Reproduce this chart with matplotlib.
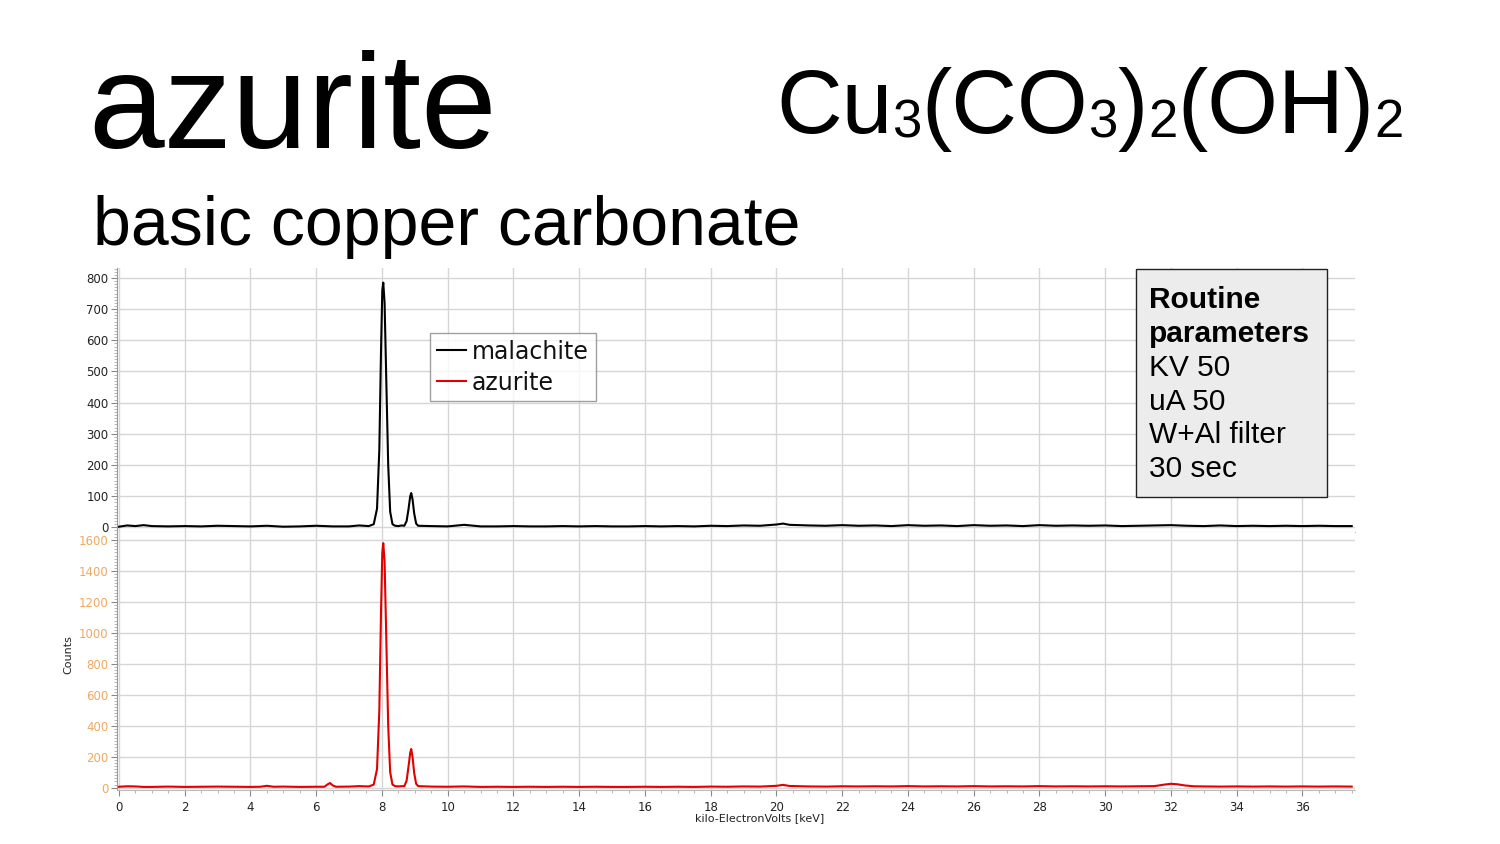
import matplotlib
matplotlib.use('Agg')
import matplotlib.pyplot as plt
from matplotlib.ticker import MultipleLocator, AutoMinorLocator

# spectra (keV, counts)
mal_kev = [0.0, 0.25, 0.5, 0.75, 1.0, 1.5, 2.0, 2.5, 3.0, 3.5, 4.0, 4.5, 5.0, 5.5, 6.0, 6.5, 7.0, 7.3,
           7.60, 7.75, 7.85, 7.92, 7.97, 8.01, 8.04, 8.08, 8.13, 8.19, 8.25, 8.32, 8.40, 8.5, 8.6,
           8.68, 8.75, 8.81, 8.86, 8.89, 8.93, 8.98, 9.04, 9.10,
           9.5, 10.0, 10.5, 11.0, 11.5, 12.0, 12.5, 13.0, 13.5, 14.0, 14.5, 15.0, 15.5, 16.0,
           16.5, 17.0, 17.5, 18.0, 18.5, 19.0, 19.5, 20.0, 20.2, 20.4, 21.0, 21.5, 22.0, 22.5,
           23.0, 23.5, 24.0, 24.5, 25.0, 25.5, 26.0, 26.5, 27.0, 27.5, 28.0, 28.5, 29.0, 29.5,
           30.0, 30.5, 31.0, 31.5, 32.0, 32.5, 33.0, 33.5, 34.0, 34.5, 35.0, 35.5, 36.0, 36.5,
           37.0, 37.5]
mal_counts = [2, 6, 4, 7, 4, 3, 4, 3, 5, 4, 3, 5, 2, 3, 5, 3, 3, 6,
              4, 10, 60, 250, 560, 760, 785, 720, 480, 200, 50, 10, 5, 4, 6,
              5, 20, 60, 100, 110, 90, 45, 12, 5,
              4, 3, 8, 3, 3, 4, 3, 3, 4, 3, 4, 3, 3, 4,
              3, 4, 3, 5, 4, 6, 5, 9, 12, 8, 6, 5, 7, 5,
              6, 4, 7, 5, 6, 4, 7, 5, 6, 4, 7, 5, 6, 5,
              6, 4, 5, 6, 7, 5, 4, 6, 4, 5, 4, 5, 4, 5,
              4, 4]

azu_kev = [0.0, 0.25, 0.5, 0.75, 1.0, 1.5, 2.0, 2.5, 3.0, 3.5, 4.0, 4.3, 4.5, 4.7, 5.0, 5.5, 6.0,
           6.25, 6.35, 6.42, 6.50, 6.60, 7.0, 7.3,
           7.60, 7.75, 7.85, 7.92, 7.97, 8.01, 8.04, 8.08, 8.13, 8.19, 8.25, 8.32, 8.40, 8.5, 8.6,
           8.68, 8.75, 8.81, 8.86, 8.89, 8.93, 8.98, 9.04, 9.10,
           9.5, 10.0, 10.5, 11.0, 11.5, 12.0, 12.5, 13.0, 13.5, 14.0, 14.5, 15.0, 15.5, 16.0,
           16.5, 17.0, 17.5, 18.0, 18.5, 19.0, 19.5, 20.0, 20.2, 20.4, 21.0, 21.5, 22.0, 22.5,
           23.0, 23.5, 24.0, 24.5, 25.0, 25.5, 26.0, 26.5, 27.0, 27.5, 28.0, 28.5, 29.0, 29.5,
           30.0, 30.5, 31.0, 31.5, 31.8, 32.0, 32.2, 32.4, 32.7, 33.0, 33.5, 34.0, 34.5, 35.0,
           35.5, 36.0, 36.5, 37.0, 37.5]
azu_counts = [6, 9, 8, 5, 5, 7, 5, 6, 7, 6, 5, 6, 12, 6, 7, 5, 6,
              6, 22, 30, 15, 6, 7, 10,
              8, 20, 120, 500, 1120, 1520, 1580, 1460, 980, 400, 100, 20, 10, 8, 10,
              10, 45, 140, 225, 250, 200, 95, 25, 10,
              7, 6, 8, 5, 6, 5, 6, 5, 6, 5, 6, 5, 5, 6,
              5, 6, 5, 7, 6, 8, 7, 12, 18, 11, 8, 7, 9, 8,
              9, 8, 10, 8, 9, 8, 10, 8, 9, 8, 10, 8, 9, 8,
              9, 8, 9, 10, 20, 25, 22, 15, 9, 8, 7, 8, 7, 8,
              7, 8, 7, 8, 7]

series_labels = ['malachite', 'azurite']
params_lines = ['KV 50', 'uA 50', 'W+Al filter', '30 sec']

W, H = 1500, 844
fig = plt.figure(figsize=(15, 8.44), dpi=100)

left, right = 117 / W, 1355 / W
ax1 = fig.add_axes([left, 1 - 532 / H, right - left, (532 - 268) / H])
ax2 = fig.add_axes([left, 1 - 790 / H, right - left, (790 - 532) / H], sharex=ax1)

l1, = ax1.plot(mal_kev, mal_counts, color='black', lw=1.5)
l2, = ax2.plot(azu_kev, azu_counts, color='#e00000', lw=1.5)

ax1.set_xlim(-0.06, 37.6)
ax1.set_ylim(-15, 832)
ax2.set_ylim(-15, 1652)

for ax, ymaj, ycol in [(ax1, 100, '#222222'), (ax2, 200, '#f0a860')]:
    ax.yaxis.set_major_locator(MultipleLocator(ymaj))
    ax.yaxis.set_minor_locator(AutoMinorLocator(10))
    ax.xaxis.set_major_locator(MultipleLocator(2))
    ax.xaxis.set_minor_locator(AutoMinorLocator(4))
    ax.grid(True, which='major', color='#d6d6d6', lw=1)
    ax.set_axisbelow(True)
    for s in ['top', 'right']:
        ax.spines[s].set_visible(False)
    ax.spines['left'].set_color('#999999')
    ax.spines['bottom'].set_color('#bbbbbb')
    ax.tick_params(axis='y', which='major', length=4, width=0.8, color='#888888',
                   labelsize=8.5, labelcolor=ycol, pad=2)
    ax.tick_params(axis='y', which='minor', length=2, width=0.6, color='#aaaaaa')
    ax.tick_params(axis='x', which='major', length=4, width=0.8, color='#888888',
                   labelsize=8.5, labelcolor='#222222', pad=4)
    ax.tick_params(axis='x', which='minor', length=2, width=0.6, color='#aaaaaa')

ax1.tick_params(axis='x', which='both', labelbottom=False, length=0)

ax2.set_xlabel('kilo-ElectronVolts [keV]', fontsize=8, color='#222222')
ax2.xaxis.set_label_coords((760 - 117) / (1355 - 117), -0.09)
fig.text(68 / W, 1 - 655 / H, 'Counts', rotation=90, fontsize=8, color='#222222',
         ha='center', va='center')

leg = ax1.legend([l1, l2], series_labels, loc='upper left',
                 bbox_to_anchor=(430 / W, 1 - 333 / H), bbox_transform=fig.transFigure,
                 fontsize=17, frameon=True, fancybox=False, shadow=False,
                 handlelength=1.25, handletextpad=0.25, labelspacing=0.3,
                 borderpad=0.28, borderaxespad=0)
leg.get_frame().set_edgecolor('#888888')
leg.get_frame().set_linewidth(1)
for t in leg.get_texts():
    t.set_color('#111111')

# parameters box
box = plt.Rectangle((1136 / W, 1 - 497 / H), (1327 - 1136) / W, (497 - 269) / H,
                    transform=fig.transFigure, facecolor='#ececec', edgecolor='#222222',
                    lw=1, zorder=5)
fig.add_artist(box)
sans = ['Liberation Sans', 'DejaVu Sans']
fig.text(1149 / W, 1 - 308 / H, 'Routine', fontsize=21.5, fontweight='bold', family=sans,
         va='baseline', zorder=6)
fig.text(1149 / W, 1 - 342 / H, 'parameters', fontsize=21.5, fontweight='bold', family=sans,
         va='baseline', zorder=6)
for i, line in enumerate(params_lines):
    fig.text(1149 / W, 1 - (376 + 33.7 * i) / H, line, fontsize=21.5, family=sans,
             va='baseline', zorder=6)

# titles
fig.text(88 / W, 1 - 148 / H, 'azurite', fontsize=98, family=sans, va='baseline')
fig.text(93 / W, 1 - 245 / H, 'basic copper carbonate', fontsize=49, family=sans,
         va='baseline')

pieces = [('Cu', 0), ('3', 1), ('(CO', 0), ('3', 1), (')', 0), ('2', 1), ('(OH)', 0), ('2', 1)]
renderer = fig.canvas.get_renderer()
xpix = 776
for txt, sub in pieces:
    size = 38 if sub else 65.5
    ypix = 137 if sub else 133
    t = fig.text(xpix / W, 1 - ypix / H, txt, fontsize=size, family=sans, va='baseline')
    bb = t.get_window_extent(renderer=renderer)
    xpix = bb.x1

fig.savefig('out.png', dpi=100)
